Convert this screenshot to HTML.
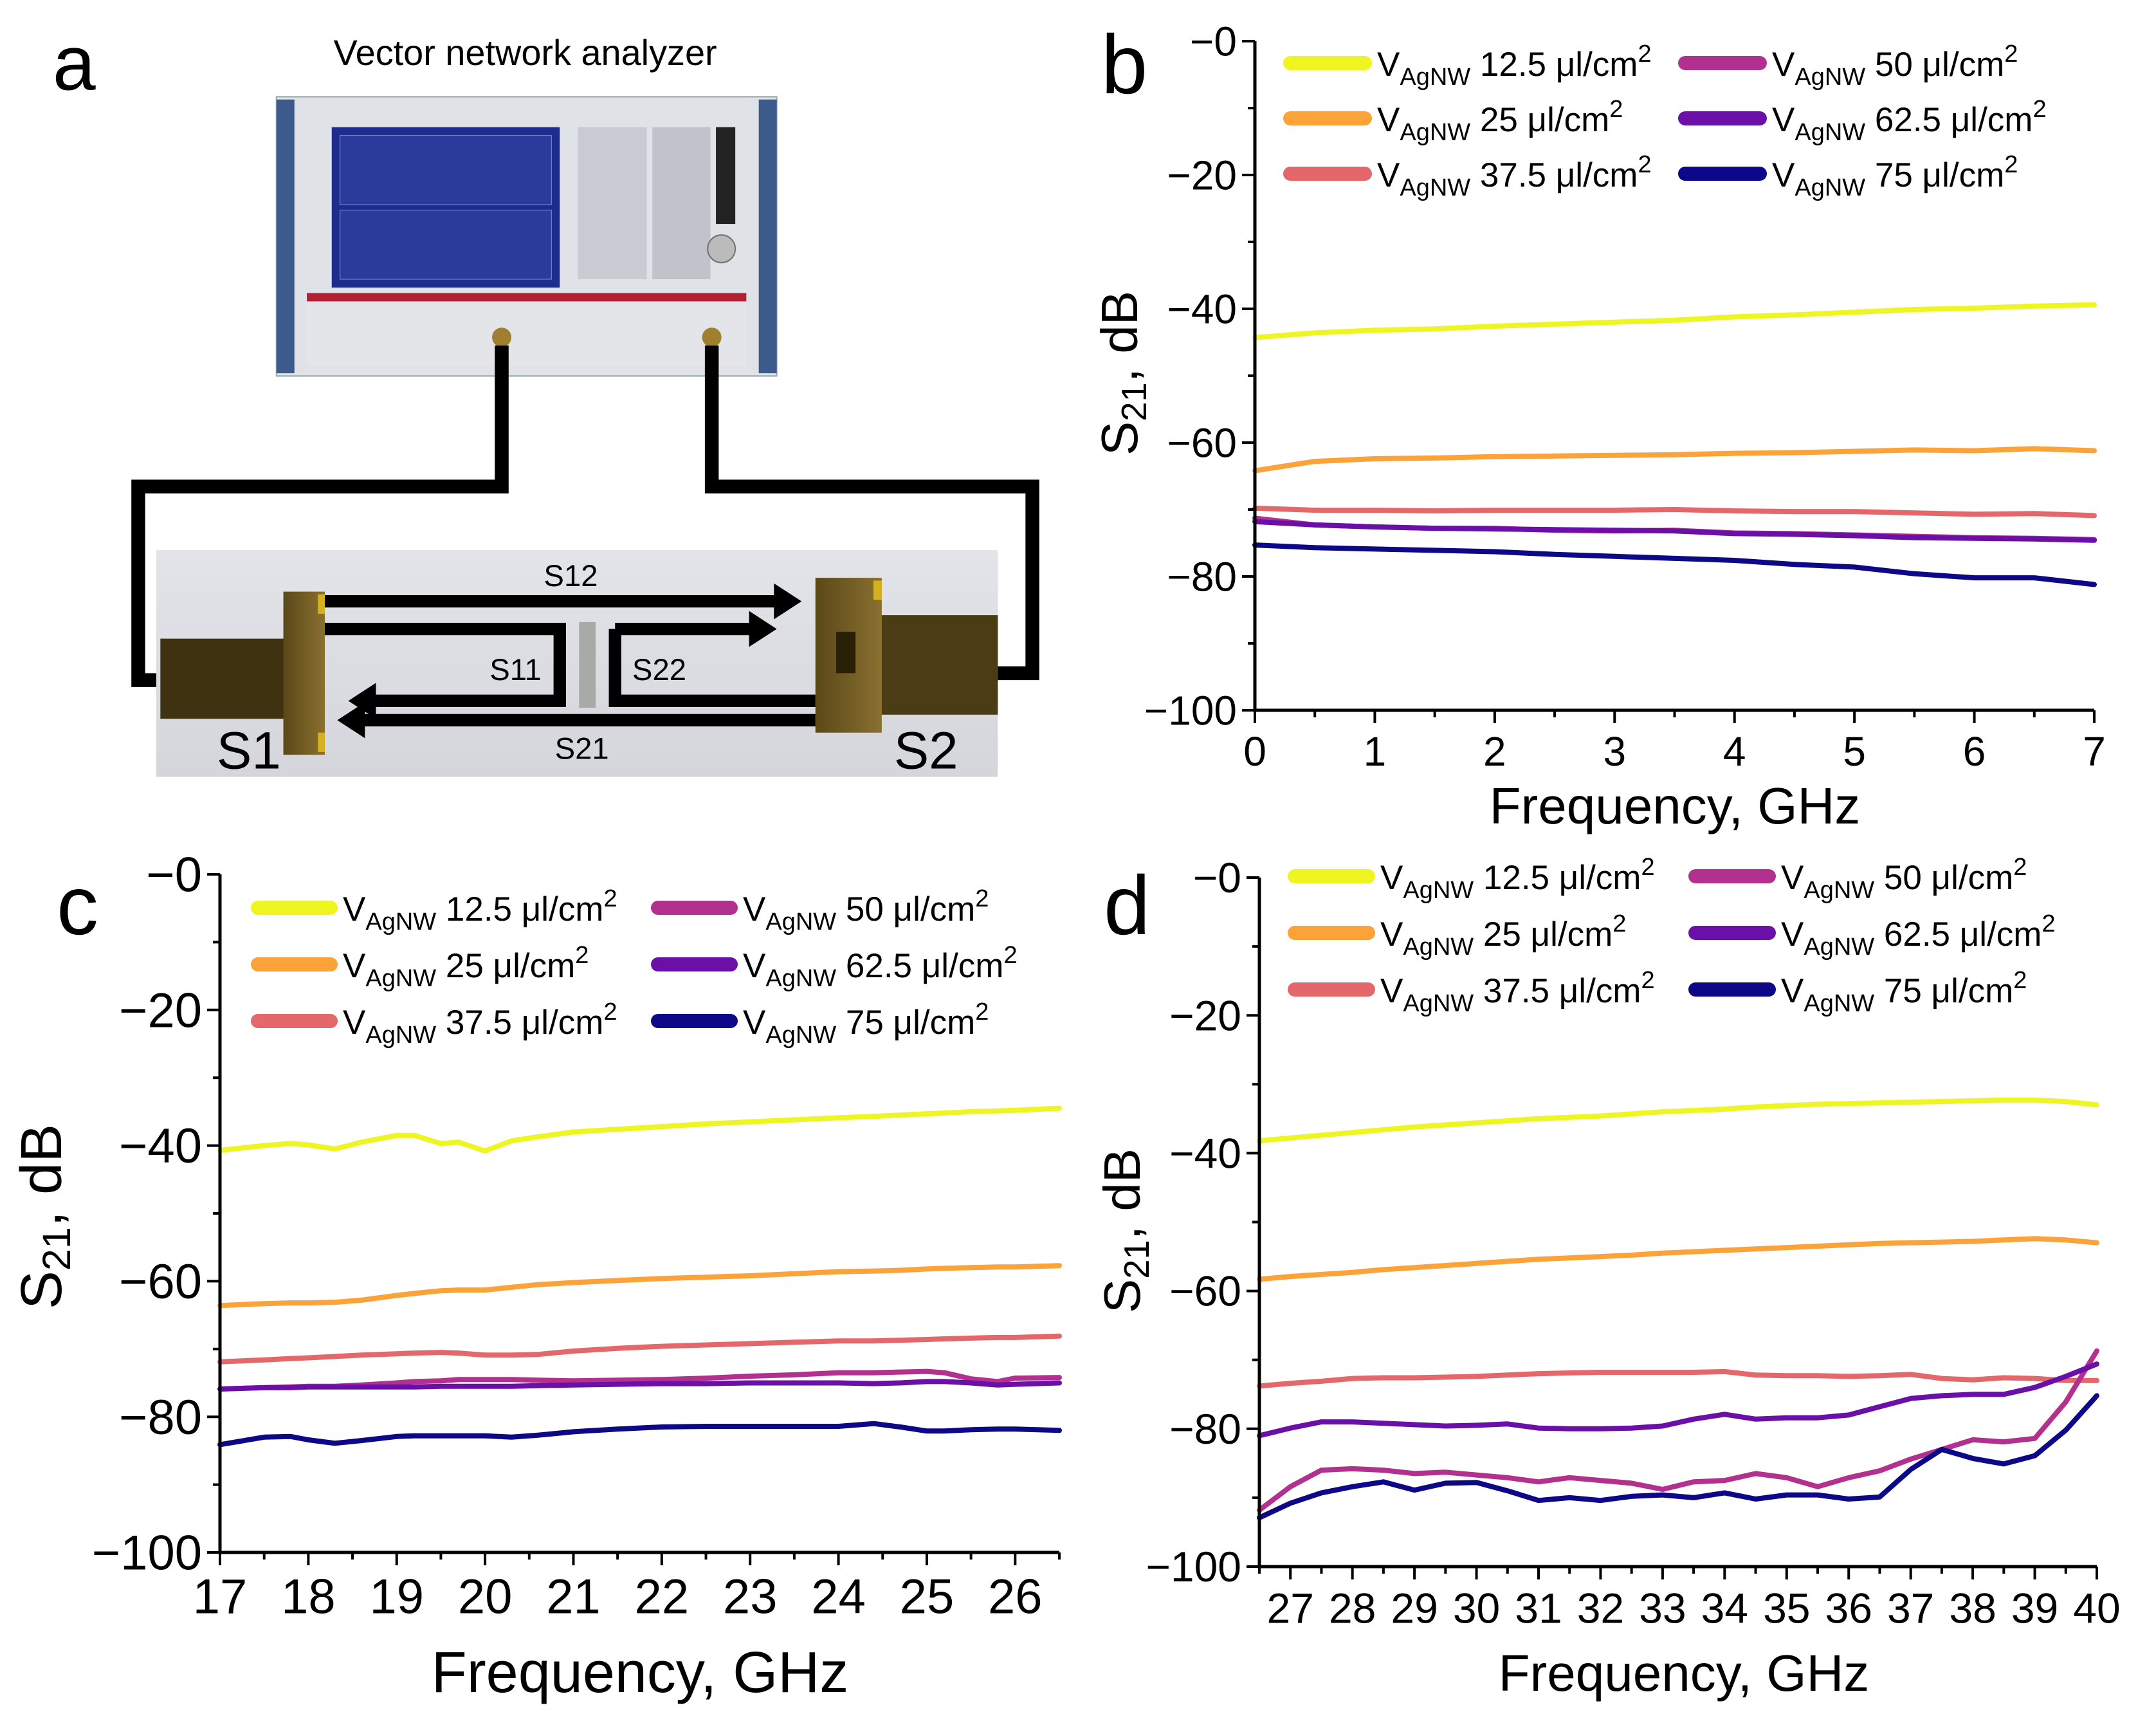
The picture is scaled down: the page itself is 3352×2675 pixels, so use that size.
<!DOCTYPE html>
<html><head><meta charset="utf-8">
<style>
html,body{margin:0;padding:0;background:#fff;}
body{width:3352px;height:2675px;position:relative;overflow:hidden;font-family:"Liberation Sans",sans-serif;}
svg{position:absolute;left:0;top:0;}
</style></head>
<body>
<svg id="panelA" width="3352" height="2675" viewBox="0 0 1560 1245">
 <defs>
  <linearGradient id="bg" x1="0" y1="0" x2="0" y2="1"><stop offset="0" stop-color="#e2e4ea"/><stop offset="1" stop-color="#d4d6dc"/></linearGradient>
  <linearGradient id="brass" x1="0" y1="0" x2="1" y2="0"><stop offset="0" stop-color="#5a4818"/><stop offset="1" stop-color="#8a7030"/></linearGradient>
 </defs>
 <text x="38" y="65" font-size="56" font-family="Liberation Sans">a</text>
 <text x="380" y="47" font-size="26" text-anchor="middle" font-family="Liberation Sans">Vector network analyzer</text>
 <g>
  <rect x="200" y="70" width="362" height="202" fill="#dfe2e6" stroke="#9aa" stroke-width="1"/>
  <rect x="200" y="72" width="13" height="198" fill="#3c5a8c"/>
  <rect x="549" y="72" width="13" height="198" fill="#3c5a8c"/>
  <rect x="240" y="92" width="165" height="116" fill="#1c2d8e"/>
  <rect x="246" y="98" width="153" height="50" fill="#2a3b9c" stroke="#6a7acc" stroke-width="0.6"/>
  <rect x="246" y="152" width="153" height="50" fill="#2a3b9c" stroke="#6a7acc" stroke-width="0.6"/>
  <rect x="418" y="92" width="50" height="110" fill="#c8ccd2"/>
  <rect x="472" y="92" width="42" height="110" fill="#c0c4ca"/>
  <rect x="518" y="92" width="14" height="70" fill="#222"/>
  <circle cx="522" cy="180" r="10" fill="#bbb" stroke="#777"/>
  <rect x="222" y="212" width="318" height="6" fill="#b02030"/>
  <rect x="222" y="220" width="318" height="45" fill="#e4e5e8"/>
  <circle cx="363" cy="244" r="7" fill="#a08030"/>
  <circle cx="515" cy="244" r="7" fill="#a08030"/>
 </g>
 <g fill="none" stroke="#000" stroke-width="10">
  <polyline points="363,250 363,352 100,352 100,492 118,492"/>
  <polyline points="515,250 515,352 747,352 747,487 720,487"/>
 </g>
 <rect x="113" y="398" width="609" height="164" fill="url(#bg)"/>
 <g>
  <rect x="116" y="462" width="95" height="58" fill="#3e3210"/>
  <rect x="205" y="428" width="30" height="118" fill="url(#brass)"/>
  <rect x="230" y="430" width="5" height="14" fill="#d6b020"/>
  <rect x="230" y="530" width="5" height="14" fill="#d6b020"/>
 </g>
 <g>
  <rect x="636" y="445" width="86" height="72" fill="#4a3c14"/>
  <rect x="590" y="418" width="48" height="112" fill="url(#brass)"/>
  <rect x="605" y="457" width="14" height="30" fill="#2a2008"/>
  <rect x="632" y="420" width="6" height="14" fill="#d6b020"/>
 </g>
 <rect x="419" y="450" width="12" height="62" fill="#a8aaa8"/>
 <g fill="none" stroke="#000" stroke-width="9">
  <line x1="235" y1="435" x2="566" y2="435"/>
  <polyline points="235,455 405,455 405,507 270,507"/>
  <polyline points="445,455 545,455"/>
  <polyline points="590,507 445,507 445,455"/>
  <line x1="590" y1="521" x2="258" y2="521"/>
 </g>
 <g fill="#000">
  <polygon points="580,435 560,422 560,448"/>
  <polygon points="562,455 542,442 542,468"/>
  <polygon points="252,507 272,494 272,520"/>
  <polygon points="244,521 264,508 264,534"/>
 </g>
 <g font-family="Liberation Sans" text-anchor="middle">
  <text x="413" y="424" font-size="22">S12</text>
  <text x="373" y="492" font-size="22">S11</text>
  <text x="477" y="492" font-size="22">S22</text>
  <text x="421" y="549" font-size="22">S21</text>
  <text x="180" y="556" font-size="38">S1</text>
  <text x="670" y="556" font-size="38">S2</text>
 </g>
</svg>
<svg id="charts" width="3352" height="2675" viewBox="0 0 3352 2675"></svg>
<script>
const colors = ["#eef520","#fba238","#e3676b","#b2318f","#6a0fa8","#0d0887"];
const legendLabels = ["12.5","25","37.5","50","62.5","75"];
const yTicks = [0,-20,-40,-60,-80,-100];
const yTickLabels = ["\u22120","\u221220","\u221240","\u221260","\u221280","\u2212100"];

const bFreq = [0,0.5,1,1.5,2,2.5,3,3.5,4,4.5,5,5.5,6,6.5,7];
const bTicks = [0,1,2,3,4,5,6,7];
const b125 = [-44.3,-43.6,-43.2,-43.0,-42.6,-42.3,-42.0,-41.7,-41.2,-40.9,-40.5,-40.1,-39.9,-39.6,-39.4];
const b25 = [-64.2,-62.8,-62.4,-62.3,-62.1,-62.0,-61.9,-61.8,-61.6,-61.5,-61.3,-61.1,-61.2,-60.9,-61.2];
const b375 = [-69.8,-70.1,-70.1,-70.2,-70.1,-70.1,-70.1,-70.0,-70.2,-70.3,-70.3,-70.5,-70.7,-70.6,-70.9];
const b50 = [-71.3,-72.3,-72.6,-72.8,-72.8,-73.1,-73.2,-73.1,-73.5,-73.6,-73.8,-74.0,-74.2,-74.3,-74.5];
const b625 = [-71.8,-72.3,-72.6,-72.8,-72.9,-73.0,-73.1,-73.2,-73.6,-73.7,-73.9,-74.2,-74.3,-74.4,-74.6];
const b75 = [-75.3,-75.7,-75.9,-76.1,-76.3,-76.7,-77.0,-77.3,-77.6,-78.2,-78.6,-79.6,-80.2,-80.2,-81.2];

const cFreq = [17,17.5,17.8,18,18.3,18.6,19,19.2,19.5,19.7,20,20.3,20.6,21,21.5,22,22.5,23,23.5,24,24.4,24.7,25,25.2,25.5,25.8,26,26.5];
const cTicks = [17,18,19,20,21,22,23,24,25,26];
const c125 = [-40.7,-40.0,-39.7,-39.9,-40.5,-39.5,-38.5,-38.5,-39.7,-39.5,-40.8,-39.3,-38.7,-38.0,-37.6,-37.2,-36.8,-36.5,-36.2,-35.9,-35.7,-35.5,-35.3,-35.2,-35.0,-34.9,-34.8,-34.5];
const c25 = [-63.6,-63.3,-63.2,-63.2,-63.1,-62.8,-62.1,-61.8,-61.4,-61.3,-61.3,-60.9,-60.5,-60.2,-59.9,-59.6,-59.4,-59.2,-58.9,-58.6,-58.5,-58.4,-58.2,-58.1,-58.0,-57.9,-57.9,-57.7];
const c375 = [-71.9,-71.6,-71.4,-71.3,-71.1,-70.9,-70.7,-70.6,-70.5,-70.6,-70.9,-70.9,-70.8,-70.3,-69.9,-69.6,-69.4,-69.2,-69.0,-68.8,-68.8,-68.7,-68.6,-68.5,-68.4,-68.3,-68.3,-68.1];
const c50 = [-75.9,-75.7,-75.6,-75.5,-75.5,-75.3,-75.0,-74.8,-74.7,-74.5,-74.5,-74.5,-74.6,-74.7,-74.6,-74.5,-74.3,-74.0,-73.8,-73.5,-73.5,-73.4,-73.3,-73.5,-74.4,-74.8,-74.3,-74.2];
const c625 = [-75.9,-75.7,-75.7,-75.6,-75.6,-75.6,-75.6,-75.6,-75.5,-75.5,-75.5,-75.5,-75.4,-75.3,-75.2,-75.1,-75.1,-75.0,-75.0,-75.0,-75.1,-75.0,-74.8,-74.8,-75.0,-75.3,-75.2,-75.0];
const c75 = [-84.1,-83.0,-82.9,-83.4,-83.9,-83.5,-82.9,-82.8,-82.8,-82.8,-82.8,-83.0,-82.7,-82.2,-81.8,-81.5,-81.4,-81.4,-81.4,-81.4,-81.0,-81.5,-82.1,-82.1,-81.9,-81.8,-81.8,-82.0];

const dFreq = [26.5,27,27.5,28,28.5,29,29.5,30,30.5,31,31.5,32,32.5,33,33.5,34,34.5,35,35.5,36,36.5,37,37.5,38,38.5,39,39.5,40];
const dTicks = [27,28,29,30,31,32,33,34,35,36,37,38,39,40];
const d125 = [-38.2,-37.8,-37.4,-37.0,-36.6,-36.2,-35.9,-35.6,-35.3,-35.0,-34.8,-34.6,-34.3,-34.0,-33.8,-33.6,-33.3,-33.1,-32.9,-32.8,-32.7,-32.6,-32.5,-32.4,-32.3,-32.3,-32.5,-33.0];
const d25 = [-58.3,-57.9,-57.6,-57.3,-56.9,-56.6,-56.3,-56.0,-55.7,-55.4,-55.2,-55.0,-54.8,-54.5,-54.3,-54.1,-53.9,-53.7,-53.5,-53.3,-53.1,-53.0,-52.9,-52.8,-52.6,-52.4,-52.6,-53.0];
const d375 = [-73.8,-73.4,-73.1,-72.7,-72.6,-72.6,-72.5,-72.4,-72.2,-72.0,-71.9,-71.8,-71.8,-71.8,-71.8,-71.7,-72.2,-72.3,-72.3,-72.4,-72.3,-72.1,-72.7,-72.9,-72.6,-72.7,-73.0,-73.0];
const d50 = [-91.8,-88.4,-86.0,-85.8,-86.0,-86.5,-86.3,-86.7,-87.1,-87.7,-87.1,-87.5,-87.9,-88.8,-87.7,-87.5,-86.5,-87.1,-88.4,-87.1,-86.1,-84.4,-83.0,-81.6,-81.9,-81.4,-76.1,-68.7];
const d625 = [-81.0,-79.9,-79.0,-79.0,-79.2,-79.4,-79.6,-79.5,-79.3,-79.9,-80.0,-80.0,-79.9,-79.6,-78.6,-77.9,-78.6,-78.4,-78.4,-78.0,-76.8,-75.6,-75.2,-75.0,-75.0,-74.0,-72.4,-70.6];
const d75 = [-92.9,-90.8,-89.3,-88.4,-87.7,-88.9,-87.9,-87.8,-89.0,-90.4,-90.0,-90.4,-89.8,-89.6,-90.0,-89.3,-90.2,-89.6,-89.6,-90.2,-89.9,-85.9,-83.0,-84.3,-85.1,-83.9,-80.2,-75.2];

const NS = "http://www.w3.org/2000/svg";
const root = document.getElementById("charts");
function mk(tag, attrs, parent){ const e=document.createElementNS(NS,tag); for(const k in attrs) e.setAttribute(k,attrs[k]); parent.appendChild(e); return e; }

function panel(id, letter, letterPos, box, xMin, xMax, xTicks, freq, series, legend, yTitlePos, xTitlePos, fs){
  const g = mk("g",{},root);
  
  
  const xs = v => box.x0 + (v-xMin)/(xMax-xMin)*(box.x1-box.x0);
  const ys = v => box.y0 + (0-v)/100*(box.y1-box.y0);
  const lt = mk("text",{x:letterPos[0],y:letterPos[1],"font-size":130,"font-family":"Liberation Sans"},g);
  lt.textContent = letter;
  
  
  series.forEach((vals,i)=>{
    const d = vals.map((v,j)=>(j?"L":"M")+xs(freq[j]).toFixed(1)+" "+ys(v).toFixed(1)).join(" ");
    const p = mk("path",{d:d,fill:"none",stroke:colors[i],"stroke-width":8,"stroke-linejoin":"round","stroke-linecap":"round"},g);
    
    
  });
  const ax = mk("path",{d:`M${box.x0} ${box.y0} L${box.x0} ${box.y1} L${box.x1} ${box.y1}`,fill:"none",stroke:"#000","stroke-width":5},g);
  
  
  for(let v=0; v>=-100; v-=10){
    const major = v%20===0;
    mk("line",{x1:box.x0-(major?20:11),x2:box.x0,y1:ys(v),y2:ys(v),stroke:"#000","stroke-width":4},g);
  }
  yTicks.forEach((v,i)=>{
    const t = mk("text",{x:box.x0-28,y:ys(v)+fs.tick*0.35,"font-size":fs.tick,"text-anchor":"end","font-family":"Liberation Sans"},g);
    t.textContent = yTickLabels[i];
    
    
  });
  for(let v=Math.ceil(xMin*2)/2; v<=xMax+1e-9; v+=0.5){
    const major = Math.abs(v-Math.round(v))<1e-9;
    mk("line",{x1:xs(v),x2:xs(v),y1:box.y1,y2:box.y1+(major?20:11),stroke:"#000","stroke-width":4},g);
  }
  xTicks.forEach(v=>{
    const t = mk("text",{x:xs(v),y:box.y1+40+fs.tick*0.72,"font-size":fs.tick,"text-anchor":"middle","font-family":"Liberation Sans"},g);
    t.textContent = String(v);
    
    
  });
  const xt = mk("text",{x:xTitlePos[0],y:xTitlePos[1],"font-size":fs.title,"text-anchor":"middle","font-family":"Liberation Sans"},g);
  xt.textContent = "Frequency, GHz";
  
  
  const yt = mk("text",{x:0,y:0,"font-size":fs.title,"text-anchor":"middle","font-family":"Liberation Sans",transform:`translate(${yTitlePos[0]},${yTitlePos[1]}) rotate(-90)`},g);
  yt.innerHTML = 'S<tspan font-size="'+(fs.title*0.68)+'" dy="14">21</tspan><tspan dy="-14">, dB</tspan>';
  
  
  legendLabels.forEach((lab,i)=>{
    const col = Math.floor(i/3), row = i%3;
    const lx = legend.x[col], ly = legend.y + row*legend.dy;
    const lg = mk("g",{},g);
    
    
    mk("line",{x1:lx+11,x2:lx+legend.w-11,y1:ly,y2:ly,stroke:colors[i],"stroke-width":22,"stroke-linecap":"round"},lg);
    const t = mk("text",{x:lx+legend.w+8,y:ly+20,"font-size":53,"font-family":"Liberation Sans"},lg);
    t.innerHTML = 'V<tspan font-size="38" dy="14">AgNW</tspan><tspan dy="-14"> '+lab+' \u03bcl/cm</tspan><tspan font-size="38" dy="-22">2</tspan>';
  });
}

panel("b","b",[1712,145],{x0:1951,x1:3256,y0:64,y1:1104},0,7,bTicks,bFreq,[b125,b25,b375,b50,b625,b75],
  {x:[1995,2609],y:98,dy:86,w:138},[1768,580],[2604,1280],{tick:64,title:80});
panel("c","c",[88,1452],{x0:342,x1:1647,y0:1359,y1:2413},17,26.5,cTicks,cFreq,[c125,c25,c375,c50,c625,c75],
  {x:[390,1012],y:1411,dy:88,w:135},[95,1891],[995,2630],{tick:76,title:90});
panel("d","d",[1716,1452],{x0:1958,x1:3260,y0:1364,y1:2435},26.5,40,dTicks,dFreq,[d125,d25,d375,d50,d625,d75],
  {x:[2002,2625],y:1362,dy:88,w:136},[1772,1913],[2618,2628],{tick:66,title:80});
</script>
</body></html>
